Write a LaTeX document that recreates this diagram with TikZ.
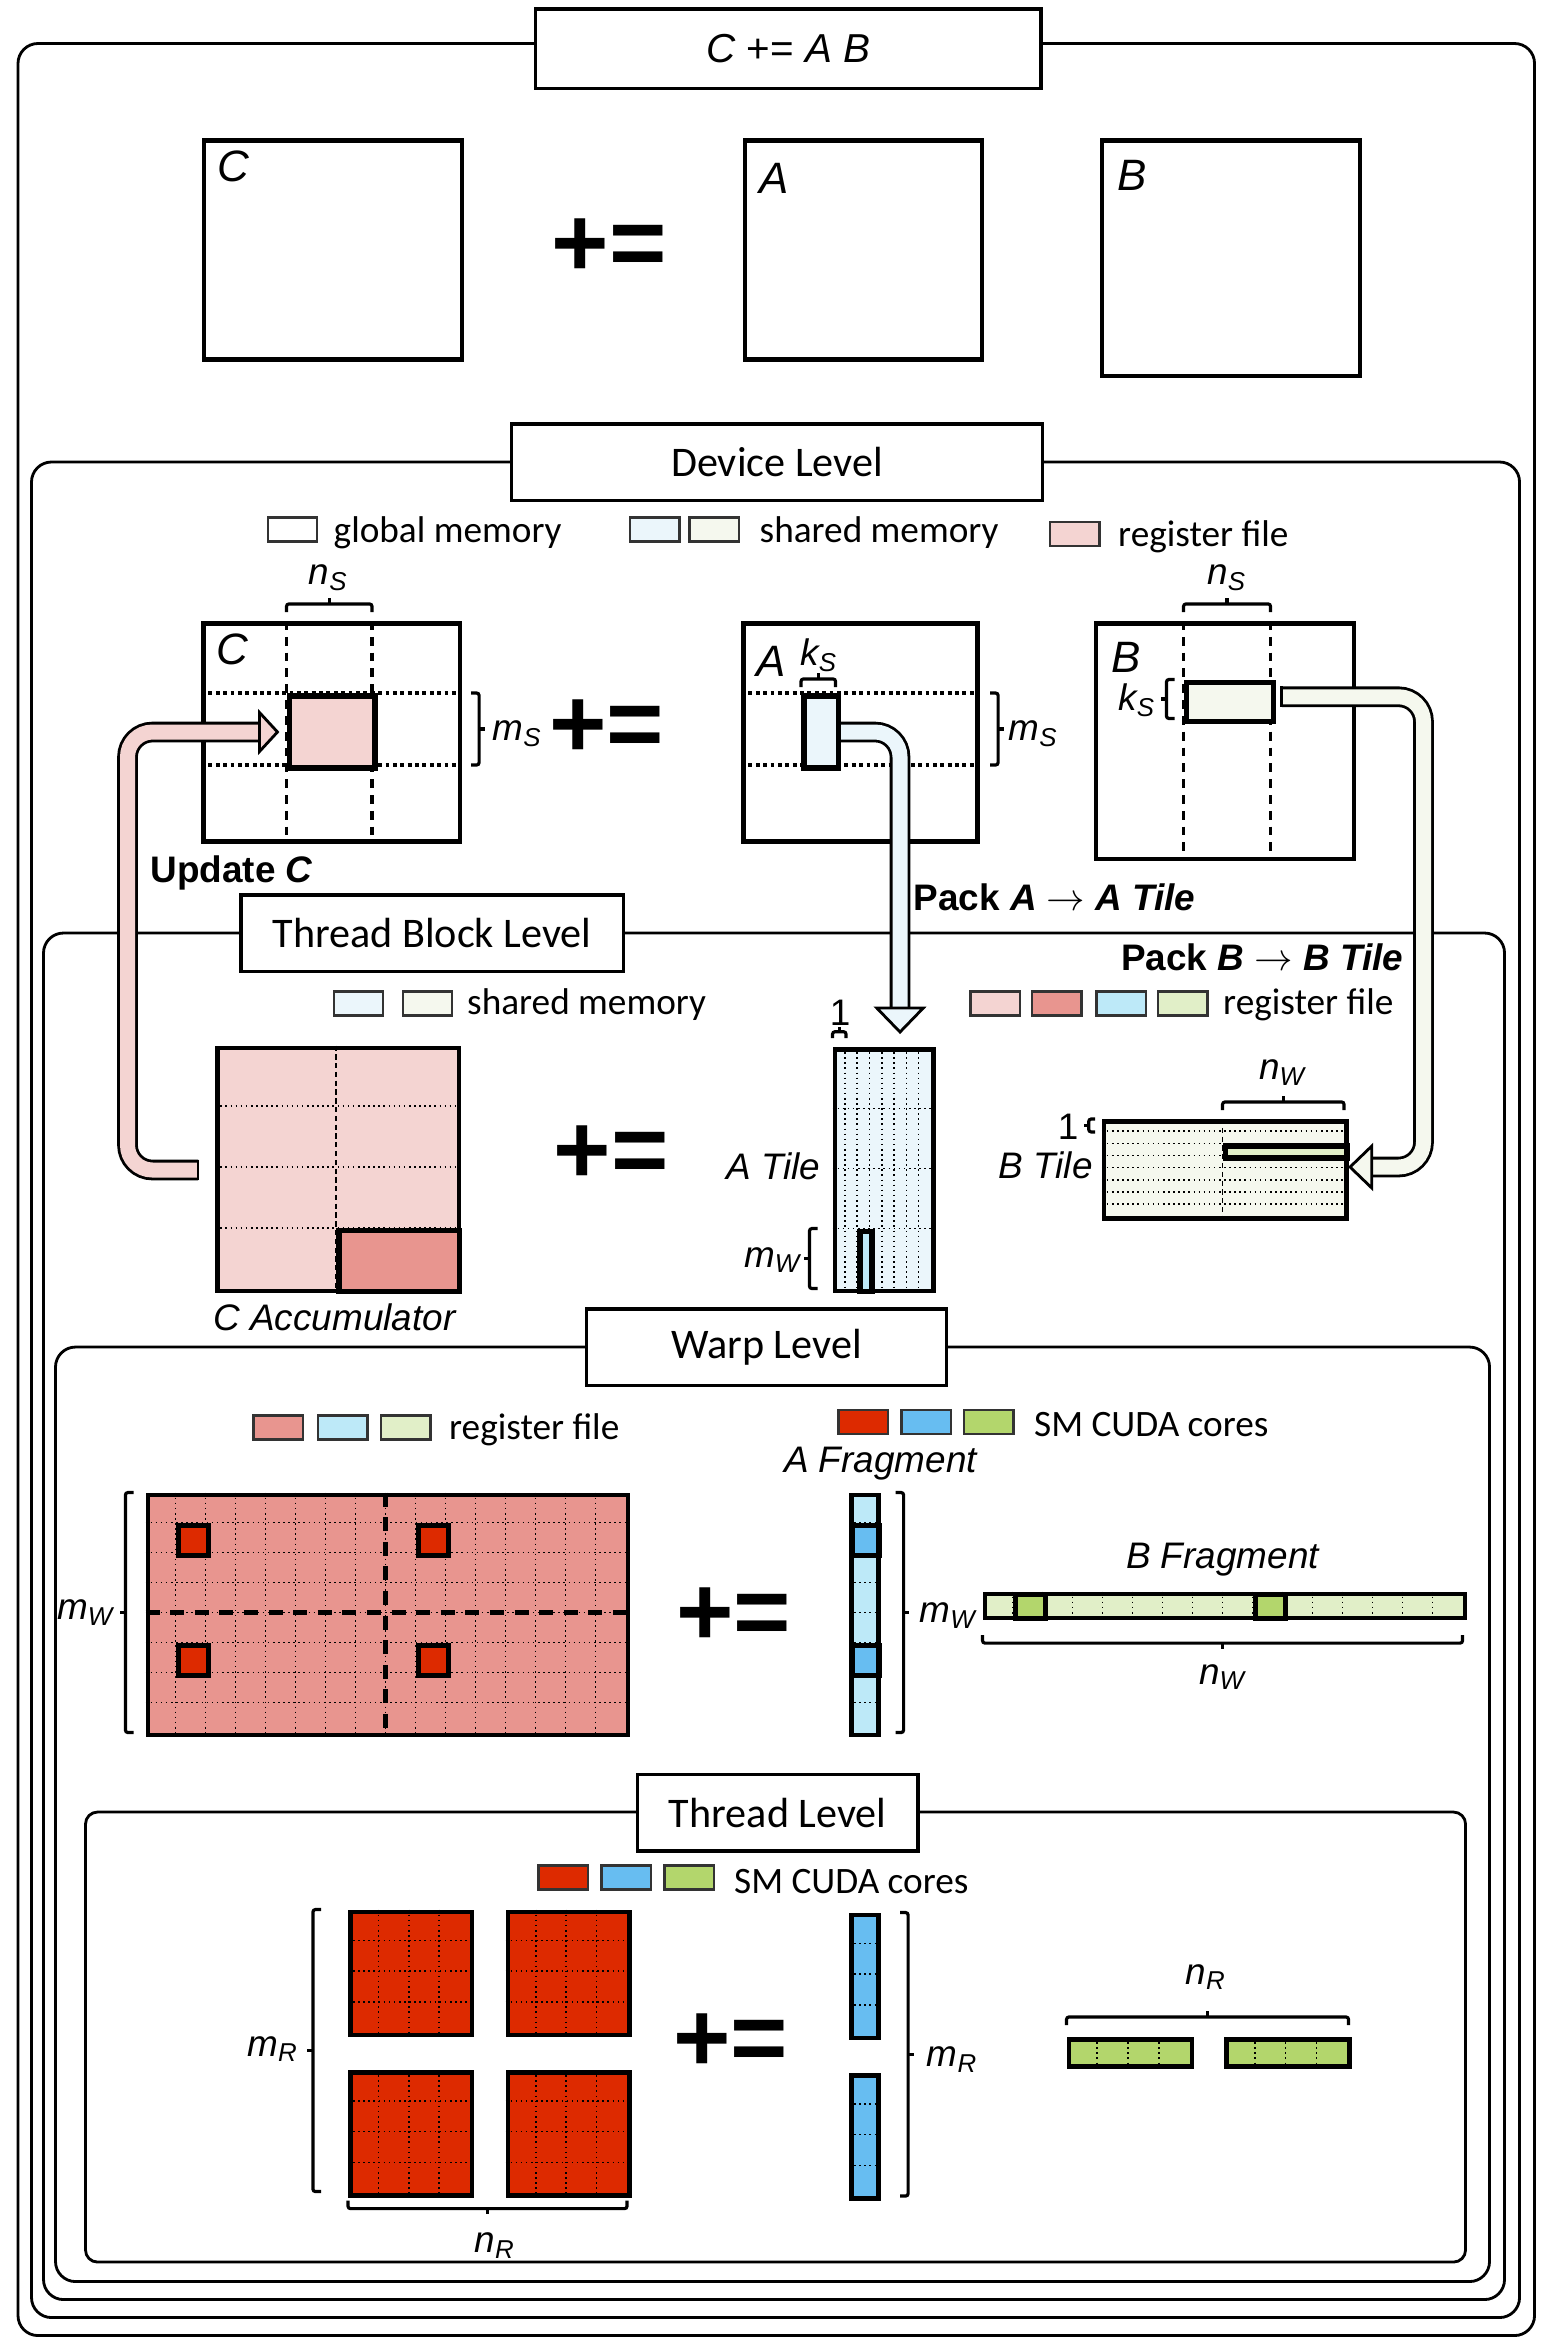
\documentclass[tikz,border=0pt]{standalone}
\usepackage{fontspec}
\setmainfont{Carlito}
\newfontfamily\arialf{Liberation Sans}
\usetikzlibrary{arrows}
\usetikzlibrary{calc}

\definecolor{regpink}{HTML}{F4D4D2}
\definecolor{regsalmon}{HTML}{E8958F}
\definecolor{shblue}{HTML}{EBF6FB}
\definecolor{shbeige}{HTML}{F5F8EE}
\definecolor{regblue}{HTML}{BDE9F8}
\definecolor{reggreen}{HTML}{E1EFC8}
\definecolor{cored}{HTML}{DD2A00}
\definecolor{coblue}{HTML}{67BDF1}
\definecolor{cogreen}{HTML}{B3D66C}

\newcommand{\sz}[1]{\fontsize{#1}{#1}\selectfont}
\newcommand{\dimlb}[2]{\textit{#1}\textsubscript{\textit{#2}}}
% square bracket with a middle tick, opening to the left of (#2)->(#3)
\newcommand{\sqbr}[3][2.3pt]{%
  \path (#2) -- (#3) coordinate[pos=0.5] (brM);
  \draw[brline] (#2) -- ($(#2)!#1!90:(#3)$) -- ($(#3)!#1!-90:(#2)$) -- (#3);
  \draw[brline] ($(brM)!#1!90:(#3)$) -- ($(brM)!1.7*#1!90:(#3)$);
}

\begin{document}
\begin{tikzpicture}[x=0.015cm,y=-0.015cm,
    lvlframe/.style={draw,line width=0.8pt,rounded corners=0.2cm},
    lvl/.style={draw,fill=white,line width=1pt,inner sep=0pt,font=\sz{12}},
    wh/.style 2 args={minimum width=#1*0.015cm,minimum height=#2*0.015cm},
    mat/.style={draw,line width=1.3pt,inner sep=0pt,anchor=north west},
    hl/.style={draw,line width=1.6pt,inner sep=0pt,anchor=north west},
    legbox/.style={draw=black!80,line width=0.7pt,inner sep=0pt,wh={33}{16}},
    legtxt/.style={anchor=west,inner sep=0pt,font=\sz{10.6}},
    mlbl/.style={inner sep=0pt,font=\arialf\itshape\sz{12.5}},
    tlbl/.style={inner sep=0pt,font=\arialf\itshape\sz{10.5}},
    blbl/.style={inner sep=0pt,font=\arialf\bfseries\sz{10.5}},
    plseq/.style={inner sep=0pt,font=\arialf\bfseries\sz{28}},
    vdash/.style={dash pattern=on 2.5pt off 2pt,line width=0.9pt},
    hdot/.style={densely dotted,line width=1.1pt},
    gridln/.style={densely dotted,line width=0.45pt},
    griddash/.style={dash pattern=on 1.5pt off 1pt,line width=0.45pt},
    middash/.style={dash pattern=on 4pt off 3pt,line width=1.2pt},
    brline/.style={line width=0.9pt,rounded corners=0.7pt},
    bandarr/.style={double=#1,double distance=0.15cm,line width=0.8pt,rounded corners=0.25cm},
    headtri/.style={draw,line width=0.8pt,line join=miter,fill=#1}
  ]
  \useasboundingbox (0,0) rectangle (1032.7,1563.3);

  %% level frames
  \draw[lvlframe] (12,29) rectangle (1023,1557);
  \draw[lvlframe] (21,308) rectangle (1013,1545);
  \draw[lvlframe] (29,622) rectangle (1003,1533);
  \draw[lvlframe] (37,898) rectangle (993,1521);
  \draw[lvlframe,rounded corners=0.12cm] (57,1208) rectangle (977,1508);

  \node[lvl,wh={337}{53}] (lv0) at (525.5,32.5) {\arialf\sz{11.5}\textit{C} += \textit{A B}};
  \node[lvl,wh={354}{51}] (lv1) at (518,308) {Device Level};
  \node[lvl,wh={255}{51}] (lv2) at (288,622) {Thread Block Level};
  \node[lvl,wh={240}{51}] (lv3) at (511,898) {Warp Level};
  \node[lvl,wh={187}{51}] (lv4) at (518.5,1208.5) {Thread Level};

  %% C += A B
  \node[mat,wh={172}{146}] (gC) at (134.5,92) {};
  \node[mat,wh={158}{146}] (gA) at (495,92) {};
  \node[mat,wh={172}{157}] (gB) at (733,92) {};
  \node[mlbl] (gClb) at (155.5,111) {C};
  \node[mlbl] (gAlb) at (516,119) {A};
  \node[mlbl] (gBlb) at (755,117) {B};
  \node[plseq] (gpe) at (406,165) {+=};

  %% device level
  \node[legbox,fill=white] (k1a) at (195,353) {};
  \node[legtxt] (k1at) at (222,355) {global memory};
  \node[legbox,fill=shblue] (k1b) at (436.5,353) {};
  \node[legbox,fill=shbeige] (k1c) at (476,353) {};
  \node[legtxt] (k1ct) at (506,355) {shared memory};
  \node[legbox,fill=regpink] (k1d) at (716.5,356) {};
  \node[legtxt] (k1dt) at (745,358) {register file};

  \node[mat,wh={171}{145.5}] (dC) at (134,414) {};
  \foreach \xx in {191,248} \draw[vdash] (\xx,414) -- (\xx,559.5);
  \foreach \yy in {462,510} \draw[hdot] (134,\yy) -- (305,\yy);
  \node[hl,fill=regpink,wh={57}{48}] (dCreg) at (191,462) {};
  \node[mlbl] (dClb) at (155,433) {C};

  \node[mat,wh={156}{145.5}] (dA) at (494,414) {};
  \foreach \yy in {462,510} \draw[hdot] (494,\yy) -- (650,\yy);
  \node[hl,fill=shblue,wh={23}{48}] (dAsh) at (534,462) {};
  \node[mlbl] (dAlb) at (514,441) {A};

  \node[mat,wh={172}{157}] (dB) at (729,414) {};
  \foreach \xx in {789,847} \draw[vdash] (\xx,414) -- (\xx,571);
  \node[hl,fill=shbeige,wh={58}{26}] (dBsh) at (789,453) {};
  \node[mlbl] (dBlb) at (751,438) {B};

  \node[plseq] (dpe) at (404.5,486) {+=};

  \sqbr{191,408}{248,408}
  \node[tlbl] (dnS) at (219,385) {\dimlb{n}{S}};
  \sqbr{314,462}{314,510}
  \node[tlbl] (dmS) at (345,489) {\dimlb{m}{S}};
  \sqbr{534,458}{557,458}
  \node[tlbl] (dkS) at (546,437) {\dimlb{k}{S}};
  \sqbr{660,462}{660,510}
  \node[tlbl] (dmS2) at (689,489) {\dimlb{m}{S}};
  \sqbr{783,479}{783,453}
  \node[tlbl] (dkS2) at (758,467) {\dimlb{k}{S}};
  \sqbr{789,408}{847,408}
  \node[tlbl] (dnS2) at (818,385) {\dimlb{n}{S}};

  %% thread block level
  \node[legbox,fill=shblue] (k2a) at (239,669) {};
  \node[legbox,fill=shbeige] (k2b) at (285,669) {};
  \node[legtxt] (k2bt) at (311,670) {shared memory};
  \node[legbox,fill=regpink] (k2c) at (663.5,669) {};
  \node[legbox,fill=regsalmon] (k2d) at (704.5,669) {};
  \node[legbox,fill=regblue] (k2e) at (747.5,669) {};
  \node[legbox,fill=reggreen] (k2f) at (788.5,669) {};
  \node[legtxt] (k2ft) at (815,670) {register file};

  \node[mat,fill=regpink,wh={161}{162}] (cacc) at (143.5,697) {};
  \draw[griddash] (224,697) -- (224,859);
  \foreach \yy in {737.5,778,818.5} \draw[gridln] (143.5,\yy) -- (304.5,\yy);
  \node[hl,fill=regsalmon,wh={80.5}{40.5}] (caccR) at (224,818.5) {};
  \node[tlbl] (cacclb) at (223,878) {C Accumulator};

  \node[plseq] (tpe) at (407.5,770) {+=};

  \node[mat,fill=shblue,wh={65.6}{161}] (atile) at (555,698) {};
  \foreach \i in {1,...,7} \draw[gridln] ({555+8.2*\i},698) -- ++(0,161);
  \foreach \yy in {739,779,819} \draw[gridln] (555,\yy) -- (620.6,\yy);
  \node[hl,fill=regblue,wh={8.2}{40}] (atileW) at (571.4,819) {};
  \node[tlbl] (atilelb) at (515.5,777.5) {A Tile};
  \sqbr[1.8pt]{555,692}{564,692}
  \node[inner sep=0pt,font=\arialf\sz{10.5}] (aone) at (560,675) {1};
  \sqbr{545,859}{545,819}
  \node[tlbl] (amW) at (515,840) {\dimlb{m}{W}};

  \node[mat,fill=shbeige,wh={161.5}{64.8}] (btile) at (734.5,746) {};
  \foreach \i in {1,...,7} \draw[gridln] (734.5,{746+8.1*\i}) -- ++(161.5,0);
  \draw[griddash] (815,746) -- (815,810.8);
  \node[hl,fill=reggreen,wh={81}{8.1}] (btileW) at (815,762.2) {};
  \node[tlbl] (btilelb) at (697,777) {B Tile};
  \sqbr[1.8pt]{730,754.6}{730,746}
  \node[inner sep=0pt,font=\arialf\sz{10.5}] (bone) at (712,751) {1};
  \sqbr{815,740}{896,740}
  \node[tlbl] (bnW) at (855,715) {\dimlb{n}{W}};

  %% pack / update arrows
  \coordinate (updS) at (132,780);
  \coordinate (updE) at (173,488);
  \coordinate (updT) at (185,488);
  \draw[bandarr=regpink] (updS) -- (85,780) -- (85,488) -- (updE);
  \draw[line width=0.8pt] (updS) ++(0,-6.9) -- ++(0,13.8);
  \draw[headtri=regpink] ($(updE)+(0,-13)$) -- (updT) -- ($(updE)+(0,13)$) -- cycle;

  \coordinate (pkaS) at (560,488);
  \coordinate (pkaE) at (600,672);
  \coordinate (pkaT) at (600,688);
  \draw[bandarr=shblue] (pkaS) -- (600,488) -- (pkaE);
  \draw[line width=0.8pt] (pkaS) ++(0,-6.9) -- ++(0,13.8);
  \draw[headtri=shblue] ($(pkaE)+(-15.5,0)$) -- (pkaT) -- ($(pkaE)+(15.5,0)$) -- cycle;

  \coordinate (pkbS) at (854.5,464.5);
  \coordinate (pkbE) at (914.5,778);
  \coordinate (pkbT) at (900,778);
  \draw[bandarr=shbeige] (pkbS) -- (949,464.5) -- (949,778) -- (pkbE);
  \draw[line width=0.8pt] (pkbS) ++(0,-6.9) -- ++(0,13.8);
  \draw[headtri=shbeige] ($(pkbE)+(0,-14)$) -- (pkbT) -- ($(pkbE)+(0,14)$) -- cycle;

  \node[blbl] (updlb) at (154.5,582) {Update \textit{C}};
  \node[blbl] (pkalb) at (703,598.5) {Pack \textit{A} $\rightarrow$ \textit{A Tile}};
  \node[blbl] (pkblb) at (841.5,638.5) {Pack \textit{B} $\rightarrow$ \textit{B Tile}};

  %% warp level
  \node[legbox,fill=regsalmon] (k3a) at (185.5,951.5) {};
  \node[legbox,fill=regblue] (k3b) at (228.5,951.5) {};
  \node[legbox,fill=reggreen] (k3c) at (270.5,951.5) {};
  \node[legtxt] (k3ct) at (299,953) {register file};
  \node[legbox,fill=cored] (k3d) at (575.5,948) {};
  \node[legbox,fill=coblue] (k3e) at (617.5,948) {};
  \node[legbox,fill=cogreen] (k3f) at (659,948) {};
  \node[legtxt] (k3ft) at (689,950) {SM CUDA cores};

  \node[mat,fill=regsalmon,wh={320}{160}] (wC) at (97,995) {};
  \foreach \i in {1,...,15} \draw[gridln] ({97+20*\i},995) -- ++(0,160);
  \foreach \j in {1,...,7} \draw[gridln] (97,{995+20*\j}) -- ++(320,0);
  \draw[middash] (257,995) -- (257,1155);
  \draw[middash] (97,1075) -- (417,1075);
  \foreach \bx/\by [count=\n] in {117/1015,277/1015,117/1095,277/1095}
    \node[hl,fill=cored,wh={20}{20}] (wCr\n) at (\bx,\by) {};
  \sqbr{89,1155}{89,995}
  \node[tlbl] (wmW) at (57,1075) {\dimlb{m}{W}};

  \node[plseq] (wpe) at (489,1078) {+=};

  \node[mat,fill=regblue,wh={18}{160}] (wA) at (566,995) {};
  \foreach \j in {1,...,7} \draw[gridln] (566,{995+20*\j}) -- ++(18,0);
  \foreach \by [count=\n] in {1015,1095}
    \node[hl,fill=coblue,wh={18}{20}] (wAr\n) at (566,\by) {};
  \node[tlbl] (wAlb) at (587,976) {A Fragment};
  \sqbr{597,995}{597,1155}
  \node[tlbl] (wmW2) at (632,1077) {\dimlb{m}{W}};

  \node[mat,fill=reggreen,wh={320}{16}] (wB) at (655,1061) {};
  \foreach \i in {1,...,15} \draw[gridln] ({655+20*\i},1061) -- ++(0,16);
  \foreach \bx [count=\n] in {675,835}
    \node[hl,fill=cogreen,wh={20}{16}] (wBr\n) at (\bx,1061) {};
  \node[tlbl] (wBlb) at (815,1040) {B Fragment};
  \sqbr{975,1090}{655,1090}
  \node[tlbl] (wnW) at (815,1118) {\dimlb{n}{W}};

  %% thread level
  \node[legbox,fill=cored] (k4a) at (375.5,1251.5) {};
  \node[legbox,fill=coblue] (k4b) at (417.5,1251.5) {};
  \node[legbox,fill=cogreen] (k4c) at (459.5,1251.5) {};
  \node[legtxt] (k4ct) at (489,1254) {SM CUDA cores};

  \foreach \bx/\by [count=\n] in {232/1273,337/1273,232/1380,337/1380} {
    \node[mat,fill=cored,wh={81}{82}] (tC\n) at (\bx,\by) {};
    \foreach \i in {1,2,3} {
      \draw[gridln] ({\bx+20.25*\i},\by) -- ++(0,82);
      \draw[gridln] (\bx,{\by+20.5*\i}) -- ++(81,0);
    }
  }
  \sqbr{214,1461}{214,1273}
  \node[tlbl] (tmR) at (182,1366) {\dimlb{m}{R}};
  \sqbr{418,1467}{232,1467}
  \node[tlbl] (tnR) at (330,1497) {\dimlb{n}{R}};

  \node[plseq] (tpe2) at (487,1362) {+=};

  \foreach \by [count=\n] in {1275,1382} {
    \node[mat,fill=coblue,wh={18}{82}] (tA\n) at (566,\by) {};
    \foreach \i in {1,2,3} \draw[gridln] (566,{\by+20.5*\i}) -- ++(18,0);
  }
  \sqbr{600,1275}{600,1464}
  \node[tlbl] (tmR2) at (635,1373) {\dimlb{m}{R}};

  \foreach \bx [count=\n] in {711,816} {
    \node[mat,fill=cogreen,wh={82}{18}] (tB\n) at (\bx,1358) {};
    \foreach \i in {1,2,3} \draw[gridln] ({\bx+20.5*\i},1358) -- ++(0,18);
  }
  \sqbr{711,1350}{899,1350}
  \node[tlbl] (tnR2) at (804,1318) {\dimlb{n}{R}};
\end{tikzpicture}
\end{document}
